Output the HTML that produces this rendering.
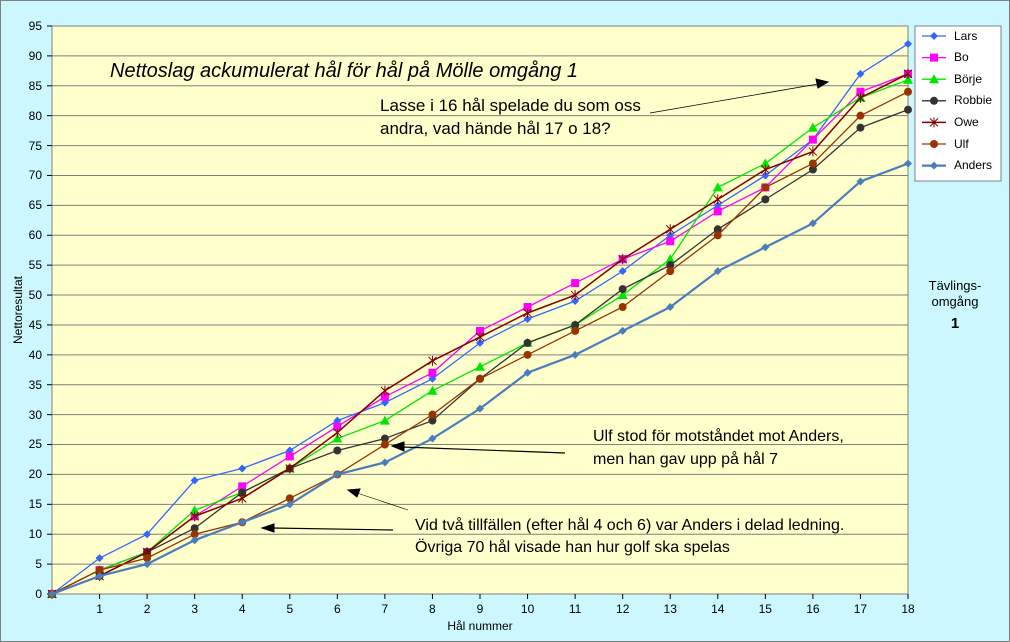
<!DOCTYPE html>
<html><head><meta charset="utf-8"><style>
html,body{margin:0;padding:0;background:#ccf7ff}
svg{display:block;font-family:"Liberation Sans",sans-serif}
</style></head><body>
<svg id="s" width="1010" height="642" viewBox="0 0 1010 642" xmlns="http://www.w3.org/2000/svg">
<rect x="0.5" y="0.5" width="1009" height="641" fill="#ccf7ff" stroke="#7f7f7f"/>
<rect x="52" y="26" width="856" height="568" fill="#ffffcc" stroke="#808080"/>
<g id="grid"></g>
<g font-size="12" fill="#000" text-anchor="end">
<text x="42" y="598">0</text><text x="42" y="568">5</text><text x="42" y="538">10</text><text x="42" y="508">15</text><text x="42" y="478">20</text><text x="42" y="448">25</text><text x="42" y="419">30</text><text x="42" y="389">35</text><text x="42" y="359">40</text><text x="42" y="329">45</text><text x="42" y="299">50</text><text x="42" y="269">55</text><text x="42" y="239">60</text><text x="42" y="209">65</text><text x="42" y="179">70</text><text x="42" y="150">75</text><text x="42" y="120">80</text><text x="42" y="90">85</text><text x="42" y="60">90</text><text x="42" y="30">95</text>
</g>
<g font-size="12" fill="#000" text-anchor="middle">
<text x="99.6" y="613">1</text><text x="147.1" y="613">2</text><text x="194.7" y="613">3</text><text x="242.2" y="613">4</text><text x="289.8" y="613">5</text><text x="337.3" y="613">6</text><text x="384.9" y="613">7</text><text x="432.4" y="613">8</text><text x="480" y="613">9</text><text x="527.6" y="613">10</text><text x="575.1" y="613">11</text><text x="622.7" y="613">12</text><text x="670.2" y="613">13</text><text x="717.8" y="613">14</text><text x="765.3" y="613">15</text><text x="812.9" y="613">16</text><text x="860.4" y="613">17</text><text x="908" y="613">18</text>
<text x="480" y="630">Hål nummer</text>
</g>
<text x="22" y="310" font-size="12" text-anchor="middle" transform="rotate(-90 22 310)">Nettoresultat</text>
<g id="series"></g>
<text x="110" y="77" font-size="20" font-style="italic">Nettoslag ackumulerat hål för hål på Mölle omgång 1</text>
<text x="380" y="111" font-size="17">Lasse i 16 hål spelade du som oss</text>
<text x="380" y="134" font-size="17">andra, vad hände hål 17 o 18?</text>
<text x="593" y="441" font-size="16">Ulf stod för motståndet mot Anders,</text>
<text x="593" y="464" font-size="16">men han gav upp på hål 7</text>
<text x="415" y="530" font-size="16">Vid två tillfällen (efter hål 4 och 6) var Anders i delad ledning.</text>
<text x="415" y="552" font-size="16">Övriga 70 hål visade han hur golf ska spelas</text>
<g stroke="#000" fill="#000">
<line x1="650" y1="113" x2="818" y2="84" stroke-width="0.8"/><polygon points="828,82 816,79 818,88"/>
<line x1="565" y1="453" x2="402" y2="447" stroke-width="1.2"/><polygon points="392,446 404,442 404,451"/>
<line x1="408" y1="510" x2="357" y2="493" stroke-width="0.6"/><polygon points="348,490 360,489 357,497"/>
<line x1="393" y1="530" x2="272" y2="528" stroke-width="1.2"/><polygon points="262,528 274,524 274,532"/>
</g>
<rect x="915" y="26" width="86" height="155" fill="#fff" stroke="#808080"/>
<g id="legend"></g>
<g font-size="12">
<text x="954" y="40">Lars</text><text x="954" y="61">Bo</text><text x="954" y="83">Börje</text><text x="954" y="104">Robbie</text><text x="954" y="126">Owe</text><text x="954" y="148">Ulf</text><text x="954" y="169">Anders</text>
</g>
<g font-size="13" text-anchor="middle">
<text x="955" y="290">Tävlings-</text><text x="955" y="306">omgång</text>
<text x="955" y="328" font-size="15" font-weight="bold">1</text>
</g>
</svg>
<script>
var NS="http://www.w3.org/2000/svg";
function el(p,t,a){var e=document.createElementNS(NS,t);for(var k in a)e.setAttribute(k,a[k]);p.appendChild(e);return e;}
var X=i=>52+47.556*i, Y=v=>594-5.979*v;
var g=document.getElementById('grid');
for(var v=5;v<95;v+=5)el(g,'line',{x1:52,x2:908,y1:Y(v),y2:Y(v),stroke:'#7f7f7f','stroke-width':1});
for(var i=0;i<=18;i++)el(g,'line',{x1:X(i),x2:X(i),y1:594,y2:599,stroke:'#000'});
for(var v=0;v<=95;v+=5)el(g,'line',{x1:47,x2:52,y1:Y(v),y2:Y(v),stroke:'#000'});
var S=[
["#3366ff","d",1.3,[0,6,10,19,21,24,29,32,36,42,46,49,54,60,65,70,76,87,92]],
["#ff00ff","s",1.3,[0,4,7,13,18,23,28,33,37,44,48,52,56,59,64,68,76,84,87]],
["#00e600","t",1.3,[0,4,7,14,17,21,26,29,34,38,42,45,50,56,68,72,78,83,86]],
["#333333","c",1.3,[0,3,7,11,17,21,24,26,29,36,42,45,51,55,61,66,71,78,81]],
["#800000","x",1.5,[0,3,7,13,16,21,27,34,39,43,47,50,56,61,66,71,74,83,87]],
["#993300","c",1.3,[0,4,6,10,12,16,20,25,30,36,40,44,48,54,60,68,72,80,84]],
["#4a7ebb","d",2.2,[0,3,5,9,12,15,20,22,26,31,37,40,44,48,54,58,62,69,72]]];
function mk(p,c,m,x,y){
 if(m=="d")el(p,'polygon',{points:[x,y-4,x+4,y,x,y+4,x-4,y].join(' '),fill:c});
 else if(m=="s")el(p,'rect',{x:x-4,y:y-4,width:8,height:8,fill:c});
 else if(m=="t")el(p,'polygon',{points:[x,y-5,x+5,y+4,x-5,y+4].join(' '),fill:c});
 else if(m=="c")el(p,'circle',{cx:x,cy:y,r:4,fill:c});
 else {el(p,'path',{d:`M${x-4} ${y-4}L${x+4} ${y+4}M${x-4} ${y+4}L${x+4} ${y-4}M${x} ${y-5}L${x} ${y+5}`,stroke:c,'stroke-width':1,fill:'none'});}
}
var sg=document.getElementById('series'),lg=document.getElementById('legend');
S.forEach(function(s,k){
 el(sg,'polyline',{points:s[3].map((v,i)=>X(i)+','+Y(v)).join(' '),fill:'none',stroke:s[0],'stroke-width':s[2]});
 s[3].forEach((v,i)=>mk(sg,s[0],s[1],X(i),Y(v)));
 var ly=36+k*21.6;
 el(lg,'line',{x1:922,x2:946,y1:ly,y2:ly,stroke:s[0],'stroke-width':s[2]});
 mk(lg,s[0],s[1],934,ly);
});
</script>
</body></html>
